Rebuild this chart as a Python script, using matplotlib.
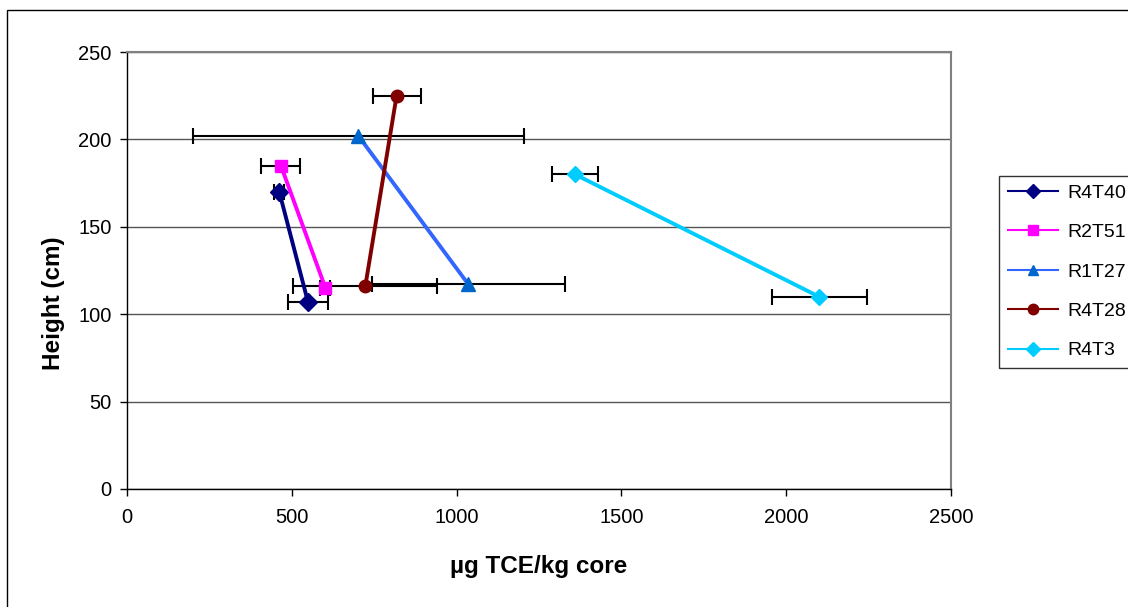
import matplotlib
matplotlib.use('Agg')
import matplotlib.pyplot as plt
from matplotlib.patches import Rectangle

plt.rcParams['font.family'] = ['Liberation Sans', 'DejaVu Sans']

# Series data: (x = ug TCE/kg core, y = height cm, x error)
series_names = ['R4T40', 'R2T51', 'R1T27', 'R4T28', 'R4T3']
x_values = [[462, 549], [467, 602], [702, 1036], [818, 723], [1359, 2100]]
y_values = [[170, 107], [185, 115], [202, 117], [225, 116], [180, 110]]
x_errors = [[15, 61], [59, 15], [503, 293], [73, 219], [70, 144]]

line_colors = ['#000080', '#FF00FF', '#3366FF', '#800000', '#00CCFF']
marker_colors = ['#000080', '#FF00FF', '#0066CC', '#800000', '#00CCFF']
markers = ['D', 's', '^', 'o', 'D']
marker_sizes = [9, 9, 10, 9, 8]

fig = plt.figure(figsize=(11.28, 6.07), dpi=100)
ax = fig.add_axes([127 / 1128, 1 - 489 / 607, 824 / 1128, 437 / 607])

# outer chart border (only top/left visible in the reference)
fig.patches.append(Rectangle((7 / 1128, -0.05), 1.2, 1 - 10 / 607 + 0.05,
                             transform=fig.transFigure, fill=False,
                             edgecolor='black', linewidth=1))

for i, name in enumerate(series_names):
    ax.errorbar(x_values[i], y_values[i], xerr=x_errors[i], fmt='none',
                ecolor='black', elinewidth=1.5, capsize=6, capthick=1.5, zorder=2)
for i, name in enumerate(series_names):
    ax.plot(x_values[i], y_values[i], color=line_colors[i], linewidth=2.8,
            marker=markers[i], markersize=marker_sizes[i],
            markerfacecolor=marker_colors[i], markeredgecolor=marker_colors[i],
            label=name, zorder=3)

ax.set_xlim(0, 2500)
ax.set_ylim(0, 250)
ax.set_xticks([0, 500, 1000, 1500, 2000, 2500])
ax.set_yticks([0, 50, 100, 150, 200, 250])
ax.yaxis.grid(True, color='#555555', linewidth=1)
ax.set_axisbelow(True)

for side in ['left', 'bottom']:
    ax.spines[side].set_color('black')
    ax.spines[side].set_linewidth(1)
for side in ['top', 'right']:
    ax.spines[side].set_color('#808080')
    ax.spines[side].set_linewidth(1.5)

ax.tick_params(axis='both', labelsize=14.5, length=5, width=1, color='black')
ax.tick_params(axis='y', pad=6)
ax.tick_params(axis='x', pad=9)
ax.set_xlabel('µg TCE/kg core', fontsize=17.5, fontweight='bold', labelpad=20)
ax.set_ylabel('Height (cm)', fontsize=17.5, fontweight='bold')
ax.yaxis.set_label_coords(65 / 1128, 0.5, transform=fig.transFigure)

leg = ax.legend(loc='upper left', bbox_to_anchor=(999 / 1128, 1 - 175.5 / 607),
                bbox_transform=fig.transFigure, frameon=True, fancybox=False,
                fontsize=14, handlelength=2.6, labelspacing=1.12,
                borderpad=0.45, borderaxespad=0, handletextpad=0.45)
leg._legend_box.sep = 0
leg.get_frame().set_edgecolor('black')
leg.get_frame().set_linewidth(1)
for h in leg.legend_handles:
    h.set_linewidth(1.5)
    h.set_markersize(7.5)

fig.savefig('out.png', dpi=100)
